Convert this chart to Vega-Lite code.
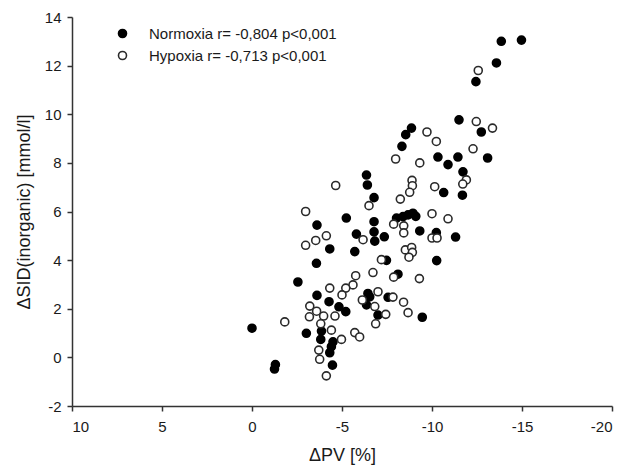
{
"$schema": "https://vega.github.io/schema/vega-lite/v6.json",
"width": 540, "height": 389,
"autosize": "none",
"padding": {"left": 72, "top": 17, "right": 14, "bottom": 65},
"background": "white",
"config": {
  "view": {"stroke": null},
  "font": "Liberation Sans",
  "axis": {"grid": false, "domainColor": "#333333", "domainWidth": 1.5, "tickColor": "#333333", "tickWidth": 1.5, "tickSize": 5, "labelFont": "Liberation Sans", "labelFontSize": 15, "labelColor": "#1a1a1a", "titleFont": "Liberation Sans", "titleFontSize": 18, "titleFontWeight": "normal", "titleColor": "#1a1a1a", "labelExpr": "'' + datum.value"}
},
"data": {"values": [
{"g":"Normoxia","pv":0,"sid":1.2},
{"g":"Normoxia","pv":-1.3,"sid":-0.3},
{"g":"Normoxia","pv":-1.25,"sid":-0.48},
{"g":"Normoxia","pv":-2.55,"sid":3.1},
{"g":"Normoxia","pv":-3.58,"sid":3.87},
{"g":"Normoxia","pv":-3.61,"sid":5.44},
{"g":"Normoxia","pv":-4.32,"sid":4.46},
{"g":"Normoxia","pv":-3.61,"sid":2.55},
{"g":"Normoxia","pv":-4.28,"sid":2.29},
{"g":"Normoxia","pv":-4.83,"sid":2.08},
{"g":"Normoxia","pv":-5.21,"sid":1.88},
{"g":"Normoxia","pv":-3.02,"sid":0.99},
{"g":"Normoxia","pv":-3.86,"sid":1.08},
{"g":"Normoxia","pv":-3.82,"sid":0.74},
{"g":"Normoxia","pv":-4.5,"sid":0.64},
{"g":"Normoxia","pv":-4.41,"sid":0.44},
{"g":"Normoxia","pv":-4.32,"sid":0.19},
{"g":"Normoxia","pv":-4.47,"sid":-0.32},
{"g":"Normoxia","pv":-5.24,"sid":5.73},
{"g":"Normoxia","pv":-5.8,"sid":5.07},
{"g":"Normoxia","pv":-5.71,"sid":4.35},
{"g":"Normoxia","pv":-6.36,"sid":7.5},
{"g":"Normoxia","pv":-6.41,"sid":7.09},
{"g":"Normoxia","pv":-6.78,"sid":6.57},
{"g":"Normoxia","pv":-6.78,"sid":5.58},
{"g":"Normoxia","pv":-6.78,"sid":5.16},
{"g":"Normoxia","pv":-6.82,"sid":4.78},
{"g":"Normoxia","pv":-7.47,"sid":3.99},
{"g":"Normoxia","pv":-6.44,"sid":2.63},
{"g":"Normoxia","pv":-6.54,"sid":2.49},
{"g":"Normoxia","pv":-6.36,"sid":2.16},
{"g":"Normoxia","pv":-7.0,"sid":1.74},
{"g":"Normoxia","pv":-7.35,"sid":4.96},
{"g":"Normoxia","pv":-7.56,"sid":2.47},
{"g":"Normoxia","pv":-8.11,"sid":3.42},
{"g":"Normoxia","pv":-9.46,"sid":1.65},
{"g":"Normoxia","pv":-10.26,"sid":3.98},
{"g":"Normoxia","pv":-8.03,"sid":5.73},
{"g":"Normoxia","pv":-8.39,"sid":5.79},
{"g":"Normoxia","pv":-8.67,"sid":5.86},
{"g":"Normoxia","pv":-8.94,"sid":5.93},
{"g":"Normoxia","pv":-9.1,"sid":5.8},
{"g":"Normoxia","pv":-9.32,"sid":5.2},
{"g":"Normoxia","pv":-10.24,"sid":5.13},
{"g":"Normoxia","pv":-11.31,"sid":4.95},
{"g":"Normoxia","pv":-10.65,"sid":6.78},
{"g":"Normoxia","pv":-11.69,"sid":6.67},
{"g":"Normoxia","pv":-11.72,"sid":7.63},
{"g":"Normoxia","pv":-10.89,"sid":7.93},
{"g":"Normoxia","pv":-10.33,"sid":8.24},
{"g":"Normoxia","pv":-11.44,"sid":8.24},
{"g":"Normoxia","pv":-13.09,"sid":8.2},
{"g":"Normoxia","pv":-11.5,"sid":9.77},
{"g":"Normoxia","pv":-12.74,"sid":9.27},
{"g":"Normoxia","pv":-12.44,"sid":11.34},
{"g":"Normoxia","pv":-13.58,"sid":12.11},
{"g":"Normoxia","pv":-13.85,"sid":13.0},
{"g":"Normoxia","pv":-14.97,"sid":13.05},
{"g":"Normoxia","pv":-8.86,"sid":9.43},
{"g":"Normoxia","pv":-8.54,"sid":9.16},
{"g":"Normoxia","pv":-8.33,"sid":8.68},
{"g":"Hypoxia","pv":-1.82,"sid":1.46},
{"g":"Hypoxia","pv":-2.98,"sid":6.0},
{"g":"Hypoxia","pv":-4.65,"sid":7.07},
{"g":"Hypoxia","pv":-4.13,"sid":5.0},
{"g":"Hypoxia","pv":-3.54,"sid":4.81},
{"g":"Hypoxia","pv":-2.98,"sid":4.61},
{"g":"Hypoxia","pv":-6.17,"sid":4.84},
{"g":"Hypoxia","pv":-6.5,"sid":6.24},
{"g":"Hypoxia","pv":-5.76,"sid":3.36},
{"g":"Hypoxia","pv":-5.61,"sid":2.98},
{"g":"Hypoxia","pv":-5.21,"sid":2.85},
{"g":"Hypoxia","pv":-5.0,"sid":2.57},
{"g":"Hypoxia","pv":-4.32,"sid":2.85},
{"g":"Hypoxia","pv":-6.13,"sid":2.36},
{"g":"Hypoxia","pv":-3.21,"sid":2.11},
{"g":"Hypoxia","pv":-3.59,"sid":1.9},
{"g":"Hypoxia","pv":-3.19,"sid":1.67},
{"g":"Hypoxia","pv":-3.98,"sid":1.7},
{"g":"Hypoxia","pv":-4.61,"sid":1.7},
{"g":"Hypoxia","pv":-3.82,"sid":1.38},
{"g":"Hypoxia","pv":-4.41,"sid":1.12},
{"g":"Hypoxia","pv":-4.97,"sid":0.74},
{"g":"Hypoxia","pv":-5.71,"sid":1.02},
{"g":"Hypoxia","pv":-5.98,"sid":0.84},
{"g":"Hypoxia","pv":-3.71,"sid":0.3},
{"g":"Hypoxia","pv":-3.76,"sid":-0.08},
{"g":"Hypoxia","pv":-4.13,"sid":-0.76},
{"g":"Hypoxia","pv":-6.72,"sid":3.49},
{"g":"Hypoxia","pv":-7.19,"sid":4.02},
{"g":"Hypoxia","pv":-7.0,"sid":2.7},
{"g":"Hypoxia","pv":-6.82,"sid":2.09},
{"g":"Hypoxia","pv":-6.87,"sid":1.38},
{"g":"Hypoxia","pv":-7.43,"sid":1.77},
{"g":"Hypoxia","pv":-7.83,"sid":2.48},
{"g":"Hypoxia","pv":-8.42,"sid":2.27},
{"g":"Hypoxia","pv":-8.67,"sid":1.84},
{"g":"Hypoxia","pv":-7.87,"sid":3.3},
{"g":"Hypoxia","pv":-9.3,"sid":3.24},
{"g":"Hypoxia","pv":-8.52,"sid":4.42},
{"g":"Hypoxia","pv":-8.87,"sid":4.52},
{"g":"Hypoxia","pv":-8.91,"sid":4.32},
{"g":"Hypoxia","pv":-8.72,"sid":4.12},
{"g":"Hypoxia","pv":-7.87,"sid":5.48},
{"g":"Hypoxia","pv":-8.43,"sid":5.41},
{"g":"Hypoxia","pv":-8.43,"sid":5.12},
{"g":"Hypoxia","pv":-10.0,"sid":4.91},
{"g":"Hypoxia","pv":-10.28,"sid":4.91},
{"g":"Hypoxia","pv":-10.0,"sid":5.91},
{"g":"Hypoxia","pv":-10.89,"sid":5.7},
{"g":"Hypoxia","pv":-8.24,"sid":6.51},
{"g":"Hypoxia","pv":-8.89,"sid":7.28},
{"g":"Hypoxia","pv":-8.91,"sid":7.06},
{"g":"Hypoxia","pv":-8.76,"sid":6.79},
{"g":"Hypoxia","pv":-10.15,"sid":7.02},
{"g":"Hypoxia","pv":-11.91,"sid":7.3},
{"g":"Hypoxia","pv":-11.71,"sid":7.13},
{"g":"Hypoxia","pv":-7.98,"sid":8.16},
{"g":"Hypoxia","pv":-9.32,"sid":8.0},
{"g":"Hypoxia","pv":-9.72,"sid":9.27},
{"g":"Hypoxia","pv":-10.24,"sid":8.88},
{"g":"Hypoxia","pv":-12.28,"sid":8.58},
{"g":"Hypoxia","pv":-12.46,"sid":9.7},
{"g":"Hypoxia","pv":-13.36,"sid":9.43},
{"g":"Hypoxia","pv":-12.57,"sid":11.8}
]},
"mark": {"type": "point", "shape": "circle", "filled": true, "size": 64, "strokeWidth": 1.6, "opacity": 1},
"encoding": {
  "x": {"field": "pv", "type": "quantitative", "scale": {"domain": [-20, 10], "reverse": true, "nice": false, "zero": false},
        "axis": {"values": [10, 5, 0, -5, -10, -15, -20], "title": "ΔPV [%]", "labelPadding": 8, "titlePadding": 12}},
  "y": {"field": "sid", "type": "quantitative", "scale": {"domain": [-2, 14], "nice": false, "zero": false},
        "axis": {"values": [-2, 0, 2, 4, 6, 8, 10, 12, 14], "title": "ΔSID(inorganic) [mmol/l]", "labelPadding": 6, "titlePadding": 11}},
  "fill": {"field": "g", "type": "nominal", "scale": {"domain": ["Normoxia", "Hypoxia"], "range": ["#000000", "#ffffff"]},
           "legend": {"orient": "none", "legendX": 43, "legendY": 9, "title": null, "padding": 0, "symbolSize": 64, "symbolStrokeWidth": 1.6, "labelOffset": 19, "rowPadding": 6, "labelLimit": 0, "labelFont": "Liberation Sans", "labelFontSize": 15, "labelColor": "#1a1a1a",
                      "labelExpr": "datum.label == 'Normoxia' ? 'Normoxia r= -0,804 p<0,001' : 'Hypoxia r= -0,713 p<0,001'"}},
  "stroke": {"field": "g", "type": "nominal", "scale": {"domain": ["Normoxia", "Hypoxia"], "range": ["#000000", "#2a2a2a"]},
           "legend": {"orient": "none", "legendX": 43, "legendY": 9, "title": null, "padding": 0, "symbolSize": 64, "symbolStrokeWidth": 1.6, "labelOffset": 19, "rowPadding": 6, "labelLimit": 0, "labelFont": "Liberation Sans", "labelFontSize": 15, "labelColor": "#1a1a1a",
                      "labelExpr": "datum.label == 'Normoxia' ? 'Normoxia r= -0,804 p<0,001' : 'Hypoxia r= -0,713 p<0,001'"}}
}
}
